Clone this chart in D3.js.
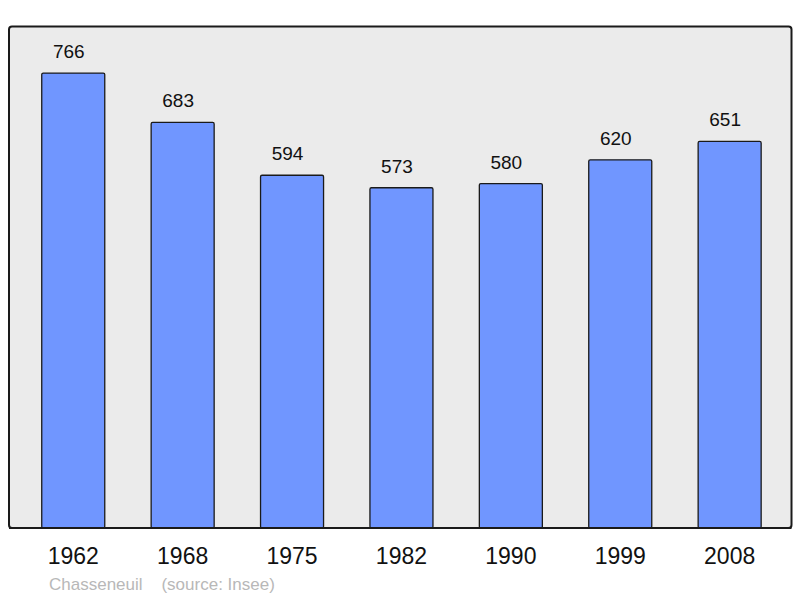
<!DOCTYPE html>
<html>
<head>
<meta charset="utf-8">
<script src="https://cdn.jsdelivr.net/npm/d3@7"></script>
<style>
  html, body { margin: 0; padding: 0; background: #ffffff; }
  svg { display: block; }
</style>
</head>
<body>
<svg id="chart" width="800" height="598"></svg>
<script>
const years = ["1962", "1968", "1975", "1982", "1990", "1999", "2008"];
const population = [766, 683, 594, 573, 580, 620, 651];
const footerPlace = "Chasseneuil";
const footerSource = "(source: Insee)";

const svg = d3.select("#chart");
const panel = { left: 9, top: 26.5, right: 791.5, bottom: 528 };

svg.append("rect")
  .attr("x", panel.left).attr("y", panel.top)
  .attr("width", panel.right - panel.left).attr("height", panel.bottom - panel.top)
  .attr("rx", 3).attr("ry", 3)
  .attr("fill", "#ebebeb").attr("stroke", "#1a1a1a").attr("stroke-width", 2);

const x = d3.scaleBand().domain(years).range([18.55, 784.35])
  .paddingInner(0.424).paddingOuter(0.212).align(0.5);
const y = d3.scaleLinear().domain([0, 844.5]).range([panel.bottom, panel.top]);

const data = years.map((yr, i) => ({ year: yr, value: population[i] }));

svg.append("g").selectAll("rect").data(data).join("rect")
  .attr("x", d => x(d.year))
  .attr("y", d => y(d.value))
  .attr("width", x.bandwidth())
  .attr("height", d => y(0) - y(d.value))
  .attr("rx", 1.5).attr("ry", 1.5)
  .attr("fill", "#7096ff").attr("stroke", "#1a1a1a").attr("stroke-width", 1.3);

// redraw panel bottom edge over bars
svg.append("line")
  .attr("x1", panel.left).attr("x2", panel.right)
  .attr("y1", panel.bottom).attr("y2", panel.bottom)
  .attr("stroke", "#1a1a1a").attr("stroke-width", 2);

svg.append("g").selectAll("text").data(data).join("text")
  .attr("x", d => x(d.year) + x.bandwidth() / 2 - 4.5)
  .attr("y", d => y(d.value) - 15)
  .attr("text-anchor", "middle")
  .attr("font-family", "Liberation Sans, Arial, sans-serif")
  .attr("font-size", 19)
  .attr("fill", "#111")
  .text(d => d.value);

const xAxis = d3.axisBottom(x).tickSize(0).tickPadding(0);
const gx = svg.append("g").attr("transform", `translate(0, ${panel.bottom})`).call(xAxis);
gx.select(".domain").remove();
gx.selectAll("text")
  .attr("y", 36).attr("dy", 0)
  .attr("font-family", "Liberation Sans, Arial, sans-serif")
  .attr("font-size", 23)
  .attr("fill", "#111");

svg.append("text")
  .attr("x", 49).attr("y", 589.5)
  .attr("font-family", "Liberation Sans, Arial, sans-serif")
  .attr("font-size", 17)
  .attr("fill", "#b8b8b8")
  .attr("xml:space", "preserve")
  .style("white-space", "pre")
  .text(footerPlace + "    " + footerSource);
</script>
</body>
</html>
